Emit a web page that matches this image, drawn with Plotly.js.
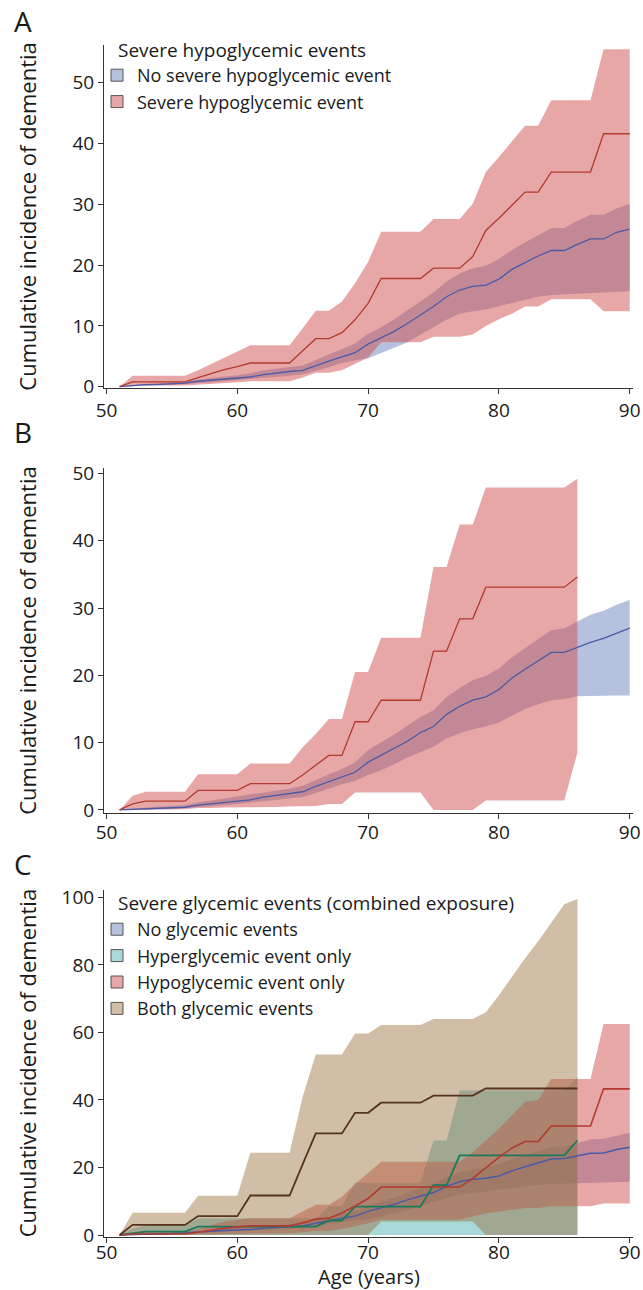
<!DOCTYPE html>
<html>
<head>
<meta charset="utf-8">
<script src="https://cdn.plot.ly/plotly-3.0.1.min.js"></script>
<style>html,body{margin:0;padding:0;background:#fff;}#chart{width:643px;height:1290px;}</style>
</head>
<body>
<div id="chart"></div>
<script>
// ---------- DATA ----------
var agesFull = [51,52,53,54,55,56,57,58,59,60,61,62,63,64,65,66,67,68,69,70,71,72,73,74,75,76,77,78,79,80,81,82,83,84,85,86,87,88,89,90];
var agesShort = [51,52,53,54,55,56,57,58,59,60,61,62,63,64,65,66,67,68,69,70,71,72,73,74,75,76,77,78,79,80,81,82,83,84,85,86];

// Panel A: severe hypoglycemic events
var A_noEvent_mid = [0,0.2,0.35,0.4,0.45,0.6,0.9,1.1,1.3,1.4,1.6,2.0,2.3,2.5,2.7,3.5,4.2,4.9,5.6,7.0,8.0,9.1,10.4,11.8,13.2,14.8,15.9,16.5,16.7,17.7,19.3,20.4,21.5,22.4,22.4,23.4,24.3,24.3,25.4,25.9];
var A_noEvent_up  = [0,0.3,0.5,0.6,0.7,0.8,1.2,1.5,1.7,1.9,2.2,2.7,3.0,3.2,3.5,4.4,5.3,6.1,7.1,8.7,9.8,11.1,12.6,14.0,15.5,17.3,18.6,19.5,19.9,21.0,22.5,23.7,24.9,26.1,26.1,27.3,28.3,28.3,29.3,30.1];
var A_noEvent_lo  = [0,0.1,0.2,0.25,0.3,0.4,0.6,0.75,0.9,1.0,1.2,1.4,1.6,1.8,2.0,2.6,3.2,3.9,4.3,4.7,5.5,6.4,7.3,8.6,9.8,11.0,12.0,12.4,12.7,13.2,13.8,14.3,14.8,15.1,15.2,15.4,15.5,15.5,15.6,15.7];
var A_event_mid = [0,0.8,0.8,0.8,0.8,0.8,1.5,2.2,2.8,3.3,3.9,3.9,3.9,3.9,5.9,7.9,7.9,8.9,11.0,13.7,17.8,17.8,17.8,17.8,19.5,19.5,19.5,21.4,25.7,27.7,29.9,32.0,32.0,35.3,35.3,35.3,35.3,41.6,41.6,41.6];
var A_event_up  = [0,1.8,1.8,1.8,1.8,1.8,2.7,3.7,4.7,5.7,6.8,6.8,6.8,6.8,9.6,12.5,12.5,14.0,17.0,20.5,25.5,25.5,25.5,25.5,27.6,27.6,27.6,30.1,35.3,37.8,40.3,42.9,42.9,47.1,47.1,47.1,47.1,55.5,55.5,55.5];
var A_event_lo  = [0,0.2,0.2,0.2,0.2,0.2,0.3,0.45,0.6,0.75,0.9,0.9,0.9,0.9,1.5,2.3,2.3,2.7,3.8,4.8,7.3,7.3,7.3,7.3,8.2,8.2,8.2,8.6,10.0,11.1,12.0,13.2,13.2,14.4,14.4,14.4,14.4,12.4,12.4,12.4];

// Panel B
var B_no_mid = [0,0.1,0.2,0.25,0.3,0.4,0.7,0.9,1.1,1.3,1.5,1.9,2.2,2.4,2.7,3.5,4.2,4.9,5.6,7.1,8.1,9.1,10.2,11.5,12.4,14.2,15.4,16.3,16.8,17.9,19.6,20.9,22.1,23.4,23.4,24.2,24.9,25.5,26.3,27.0];
var B_no_up  = [0,0.2,0.4,0.5,0.6,0.7,1.1,1.4,1.6,1.9,2.2,2.6,2.9,3.2,3.6,4.5,5.3,6.1,7.1,8.9,10.0,11.2,12.5,13.8,14.8,16.8,18.1,19.3,19.9,21.0,22.7,24.1,25.4,26.7,27.0,28.0,29.0,29.6,30.5,31.2];
var B_no_lo  = [0,0.05,0.1,0.1,0.15,0.2,0.4,0.55,0.7,0.9,1.0,1.3,1.5,1.7,1.9,2.6,3.2,3.8,4.3,5.2,5.9,6.8,7.8,8.6,9.4,10.6,11.4,12.0,12.4,13.0,14.0,15.0,15.7,16.3,16.5,16.9,16.9,17.0,17.0,17.0];
var B_ev_mid = [0,0.9,1.3,1.3,1.3,1.3,2.9,2.9,2.9,2.9,3.9,3.9,3.9,3.9,5.2,6.6,8.1,8.1,13.1,13.1,16.3,16.3,16.3,16.3,23.6,23.6,28.4,28.4,33.1,33.1,33.1,33.1,33.1,33.1,33.1,34.6];
var B_ev_up  = [0,2.1,2.7,2.7,2.7,2.7,5.3,5.3,5.3,5.3,6.9,6.9,6.9,6.9,9.3,11.3,13.5,13.5,20.5,20.5,25.6,25.6,25.6,25.6,36.1,36.1,42.4,42.4,47.9,47.9,47.9,47.9,47.9,47.9,47.9,49.2];
var B_ev_lo  = [0,0.1,0.1,0.1,0.1,0.1,0.3,0.3,0.35,0.4,0.45,0.45,0.45,0.5,0.5,0.6,0.9,0.9,2.6,2.6,2.6,2.6,2.6,2.6,0,0,0,0,1.4,1.4,1.4,1.4,1.4,1.4,1.4,8.5];

// Panel C: combined exposure
var C_none_mid = [0,0.2,0.35,0.4,0.45,0.6,0.9,1.1,1.3,1.4,1.6,2.0,2.3,2.5,2.7,3.5,4.2,4.9,5.6,7.0,8.0,9.1,10.4,11.6,12.6,14.4,15.8,16.5,16.8,17.5,19.0,20.2,21.4,22.5,22.7,23.4,24.2,24.3,25.3,26.0];
var C_none_up  = [0,0.3,0.5,0.6,0.7,0.8,1.2,1.5,1.7,1.9,2.2,2.7,3.0,3.2,3.5,4.4,5.3,6.1,7.1,8.7,9.8,11.1,12.6,14.0,15.3,17.2,18.6,19.5,19.9,21.0,22.5,23.7,24.9,26.1,26.3,27.3,28.3,28.5,29.5,30.3];
var C_none_lo  = [0,0.1,0.2,0.25,0.3,0.4,0.6,0.75,0.9,1.0,1.2,1.4,1.6,1.8,2.0,2.6,3.2,3.9,4.3,4.7,5.5,6.4,7.3,8.6,9.8,11.0,12.0,12.4,12.7,13.2,13.8,14.3,14.8,15.1,15.2,15.4,15.5,15.6,15.7,15.8];
var C_hyper_mid = [0,0.5,1.0,1.0,1.0,1.0,2.5,2.5,2.5,2.5,2.5,2.5,2.5,2.5,2.5,2.5,4.3,4.3,8.4,8.4,8.4,8.4,8.4,8.4,14.8,14.8,23.6,23.6,23.6,23.6,23.6,23.6,23.6,23.6,23.6,28.0];
var C_hyper_up  = [0,2.0,3.0,3.0,3.0,3.0,5.0,5.0,5.0,5.0,5.0,5.0,5.0,5.0,5.0,5.0,8.5,8.5,15.5,15.5,15.5,15.5,15.5,15.5,28.0,28.0,42.8,42.8,42.8,42.8,42.8,42.8,42.8,42.8,42.8,46.8];
var C_hyper_lo  = [0,0,0,0,0,0,0,0,0,0,0,0,0,0,0,0,0,0,0,0,0,0,0,0,0,0,0,0,0,0,0,0,0,0,0,0];
var C_hypo_mid = [0,0.3,0.3,0.3,0.3,0.3,0.8,1.5,2.0,2.4,2.7,2.7,2.7,2.7,3.6,4.7,5.0,6.5,8.6,10.8,14.2,14.2,14.2,14.2,14.2,14.2,14.2,16.8,20.0,23.0,25.8,27.7,27.7,32.3,32.3,32.3,32.3,43.3,43.3,43.3];
var C_hypo_up  = [0,0.8,0.8,0.8,0.8,0.8,1.7,3.0,4.0,4.6,5.0,5.0,5.0,5.0,7.0,9.0,9.0,11.3,15.0,18.5,21.7,21.7,21.7,21.7,21.7,21.7,21.7,24.5,28.0,31.5,35.5,39.5,40.0,46.2,46.2,46.2,46.2,62.5,62.5,62.5];
var C_hypo_lo  = [0,0,0,0,0,0,0.1,0.2,0.3,0.4,0.5,0.5,0.5,0.5,0.8,1.2,1.2,1.8,2.6,3.5,4.5,4.5,4.5,4.5,4.5,4.5,4.5,5.5,6.4,7.0,7.5,8.0,8.0,8.5,8.5,8.5,8.5,9.3,9.3,9.3];
var C_both_mid = [0,3.0,3.0,3.0,3.0,3.0,5.6,5.6,5.6,5.6,11.7,11.7,11.7,11.7,21.0,30.1,30.1,30.1,36.2,36.2,39.2,39.2,39.2,39.2,41.3,41.3,41.3,41.3,43.4,43.4,43.4,43.4,43.4,43.4,43.4,43.4];
var C_both_up  = [0,6.6,6.6,6.6,6.6,6.6,11.6,11.6,11.6,11.6,24.4,24.4,24.4,24.4,41.0,53.5,53.5,53.5,59.7,59.7,62.2,62.2,62.2,62.2,64.0,64.0,64.0,64.0,66.0,71.0,76.5,82.0,87.0,92.5,98.0,99.5];
var C_both_lo  = [0,0,0,0,0,0,0,0,0,0,0,0,0,0,0,0,0,0,0,0,4.0,4.0,4.0,4.0,4.0,4.0,4.0,4.0,0,0,0,0,0,0,0,0];

var xTicks = [50,60,70,80,90];
var legendA = ['No severe hypoglycemic event','Severe hypoglycemic event'];
var legendC = ['No glycemic events','Hyperglycemic event only','Hypoglycemic event only','Both glycemic events'];
var legendATitle = 'Severe hypoglycemic events';
var legendCTitle = 'Severe glycemic events (combined exposure)';
var yTitle = 'Cumulative incidence of dementia';
var xTitle = 'Age (years)';

// ---------- STYLE ----------
var COL = {
  blueFill: 'rgba(70,100,170,0.40)', blueLine: '#4a5aa8',
  redFill: 'rgba(210,80,80,0.50)', redLine: '#b23a2e',
  tealFill: 'rgba(81,177,177,0.50)', tealLine: '#1b7a5c',
  brownFill: 'rgba(150,110,60,0.45)', brownLine: '#55331d'
};

function band(x, up, lo, color, xa, ya) {
  var xs = x.concat(x.slice().reverse());
  var ys = up.concat(lo.slice().reverse());
  return {x: xs, y: ys, type: 'scatter', mode: 'lines', fill: 'toself', fillcolor: color,
          line: {width: 0, color: 'rgba(0,0,0,0)'}, hoverinfo: 'skip', showlegend: false, xaxis: xa, yaxis: ya};
}
function line(x, y, color, xa, ya, w) {
  return {x: x, y: y, type: 'scatter', mode: 'lines', line: {width: w || 1.3, color: color},
          showlegend: false, xaxis: xa, yaxis: ya};
}
function legItem(name, color, leg) {
  return {x: [null], y: [null], type: 'scatter', mode: 'markers', name: name, legend: leg,
          marker: {symbol: 'square', size: 12, color: color, line: {color: '#555', width: 1}},
          xaxis: 'x', yaxis: 'y', showlegend: true};
}

var traces = [
  band(agesFull, A_noEvent_up, A_noEvent_lo, COL.blueFill, 'x', 'y'),
  band(agesFull, A_event_up, A_event_lo, COL.redFill, 'x', 'y'),
  line(agesFull, A_noEvent_mid, COL.blueLine, 'x', 'y'),
  line(agesFull, A_event_mid, COL.redLine, 'x', 'y'),

  band(agesFull, B_no_up, B_no_lo, COL.blueFill, 'x2', 'y2'),
  band(agesShort, B_ev_up, B_ev_lo, COL.redFill, 'x2', 'y2'),
  line(agesFull, B_no_mid, COL.blueLine, 'x2', 'y2'),
  line(agesShort, B_ev_mid, COL.redLine, 'x2', 'y2'),

  band(agesFull, C_none_up, C_none_lo, COL.blueFill, 'x3', 'y3'),
  band(agesShort, C_hyper_up, C_hyper_lo, COL.tealFill, 'x3', 'y3'),
  band(agesFull, C_hypo_up, C_hypo_lo, COL.redFill, 'x3', 'y3'),
  band(agesShort, C_both_up, C_both_lo, COL.brownFill, 'x3', 'y3'),
  line(agesFull, C_none_mid, COL.blueLine, 'x3', 'y3', 1.5),
  line(agesShort, C_hyper_mid, COL.tealLine, 'x3', 'y3', 1.8),
  line(agesFull, C_hypo_mid, COL.redLine, 'x3', 'y3', 1.6),
  line(agesShort, C_both_mid, COL.brownLine, 'x3', 'y3', 1.8),

  legItem(legendA[0], COL.blueFill, 'legend'),
  legItem(legendA[1], COL.redFill, 'legend'),
  legItem(legendC[0], COL.blueFill, 'legend2'),
  legItem(legendC[1], COL.tealFill, 'legend2'),
  legItem(legendC[2], COL.redFill, 'legend2'),
  legItem(legendC[3], COL.brownFill, 'legend2')
];

var H = 1290, L = 104, R = 10, PW = 643 - L - R;
function py(px) { return 1 - px / H; }
function pxX(px) { return (px - L) / PW; }

var txt = '#1a1a1a';
function xax(anchor, standoff) {
  return {anchor: anchor, range: [49.81, 90.25], tickvals: xTicks, ticks: 'outside', ticklen: 5, tickwidth: 1,
          tickcolor: '#333', showline: true, linecolor: '#333', linewidth: 1, showgrid: false, zeroline: false,
          ticklabelstandoff: standoff, tickfont: {size: 19, color: txt}, fixedrange: true};
}
function yax(anchor, dom, range, dtick) {
  return {anchor: anchor, domain: dom, range: range, tick0: 0, dtick: dtick, ticks: 'outside', ticklen: 5,
          tickwidth: 1, tickcolor: '#333', showline: true, linecolor: '#333', linewidth: 1, showgrid: false,
          zeroline: false, tickfont: {size: 19, color: txt}, fixedrange: true};
}

var domA = [py(388.3), py(45)], domB = [py(813.3), py(468.3)], domC = [py(1236.7), py(890)];

function ann(text, x, y, size, extra) {
  var a = {text: text, x: x, y: y, xref: 'paper', yref: 'paper', showarrow: false, font: {size: size, color: txt}};
  for (var k in extra) a[k] = extra[k];
  return a;
}

var legFont = {size: 18, color: txt};
var layout = {
  width: 643, height: 1290,
  margin: {l: L, r: R, t: 0, b: 0},
  paper_bgcolor: '#fff', plot_bgcolor: 'rgba(0,0,0,0)',
  font: {family: '"Open Sans", "Noto Sans", sans-serif', size: 18, color: txt},
  showlegend: true,
  xaxis: xax('y', 0), xaxis2: xax('y2', -3), xaxis3: xax('y3', -7),
  yaxis: yax('x', domA, [-0.26, 56.2], 10),
  yaxis2: yax('x2', domB, [-0.5, 50.76], 10),
  yaxis3: yax('x3', domC, [-0.5, 102.2], 20),
  legend: {x: pxX(97), y: py(57), xanchor: 'left', yanchor: 'top', bgcolor: 'rgba(0,0,0,0)',
           font: legFont, tracegroupgap: 0, itemclick: false},
  legend2: {x: pxX(97), y: py(911), xanchor: 'left', yanchor: 'top', bgcolor: 'rgba(0,0,0,0)',
           font: legFont, tracegroupgap: 0, itemclick: false},
  annotations: [
    ann('A', pxX(12), py(21), 28, {xanchor: 'left', yanchor: 'middle'}),
    ann('B', pxX(12), py(432), 28, {xanchor: 'left', yanchor: 'middle'}),
    ann('C', pxX(12), py(864), 28, {xanchor: 'left', yanchor: 'middle'}),
    ann(legendATitle, pxX(116), py(50), 19, {xanchor: 'left', yanchor: 'middle'}),
    ann(legendCTitle, pxX(116), py(903), 19, {xanchor: 'left', yanchor: 'middle'}),
    ann(yTitle, pxX(27), (domA[0] + domA[1]) / 2, 22, {textangle: -90, xanchor: 'center', yanchor: 'middle'}),
    ann(yTitle, pxX(27), (domB[0] + domB[1]) / 2, 22, {textangle: -90, xanchor: 'center', yanchor: 'middle'}),
    ann(yTitle, pxX(27), (domC[0] + domC[1]) / 2, 22, {textangle: -90, xanchor: 'center', yanchor: 'middle'}),
    ann(xTitle, 0.5, py(1276), 20, {xanchor: 'center', yanchor: 'middle'})
  ]
};

Plotly.newPlot('chart', traces, layout, {displayModeBar: false, staticPlot: true});
</script>
</body>
</html>
